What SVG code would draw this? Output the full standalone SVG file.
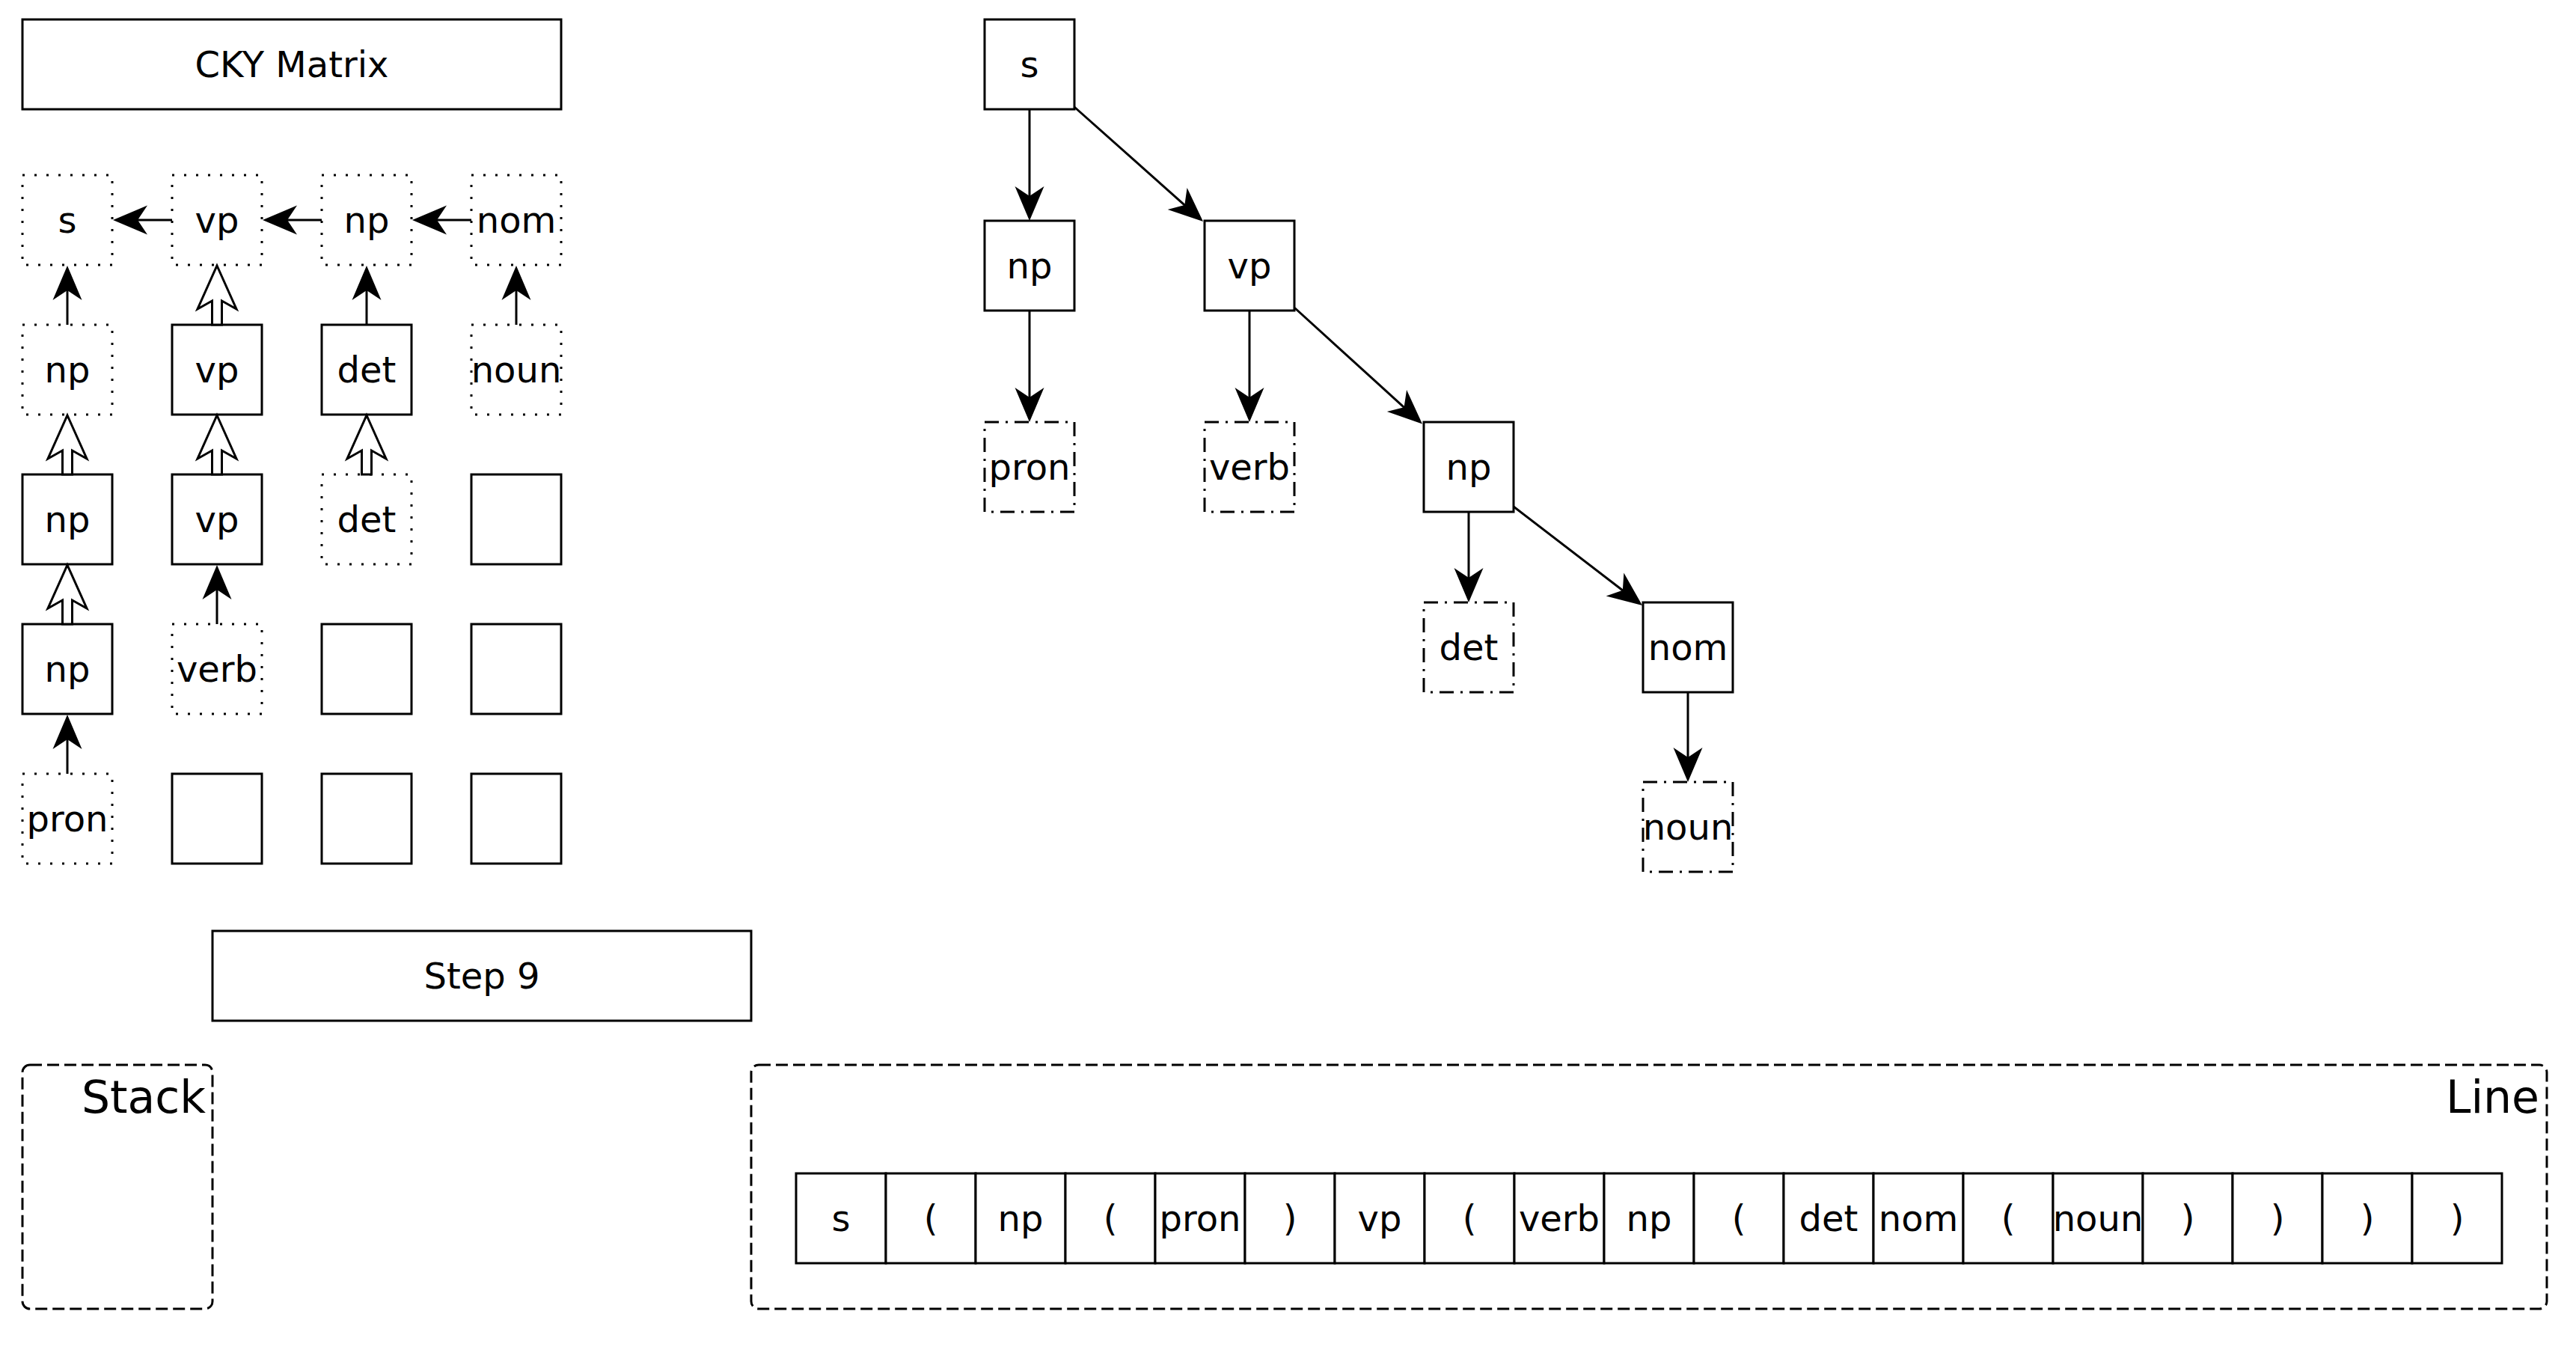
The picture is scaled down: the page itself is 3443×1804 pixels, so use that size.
<svg xmlns="http://www.w3.org/2000/svg" xmlns:xlink="http://www.w3.org/1999/xlink" width="3443" height="1804" viewBox="0 0 3443 1804">
  <style>
    .box { fill: #fff; stroke: #000; stroke-width: 3; }
    .dot { fill: #fff; stroke: #000; stroke-width: 3; stroke-dasharray: 3 13; }
    .dashdot { fill: #fff; stroke: #000; stroke-width: 3; stroke-dasharray: 19 9 3 9; }
    .group { fill: none; stroke: #000; stroke-width: 3; stroke-dasharray: 16 7; }
    .lbl { font-family: "DejaVu Sans", "Noto Sans", sans-serif; font-size: 48px; text-anchor: middle; fill: #000; }
    .title { font-family: "DejaVu Sans", "Noto Sans", sans-serif; font-size: 60px; text-anchor: end; fill: #000; }
    .edge { fill: none; stroke: #000; stroke-width: 3; marker-end: url(#arrow); }
    .hollow { fill: #fff; stroke: #000; stroke-width: 3; stroke-linejoin: miter; }
  </style>
  <defs>
    <!-- classic notched arrowhead, tip 30px past the line end -->
    <marker id="arrow" markerUnits="userSpaceOnUse" markerWidth="50" markerHeight="42" viewBox="0 0 50 42" refX="16" refY="21" orient="auto" overflow="visible">
      <path d="M0,1.5 L46,21 L0,40.5 L13,21 Z" fill="#000"/>
    </marker>
    <!-- outlined block arrow pointing up, tip at origin -->
    <path id="block-up" class="hollow" d="M0,0 L26,58 L6.5,47 L6.5,79 L-6.5,79 L-6.5,47 L-26,58 Z"/>
  </defs>

  <rect width="3443" height="1804" fill="#fff"/>

  <!-- Header boxes -->
  <g id="cky-title">
    <rect class="box" x="30" y="26" width="720" height="120"/>
    <text class="lbl" x="390" y="103">CKY Matrix</text>
  </g>
  <g id="step-title">
    <rect class="box" x="284" y="1244" width="720" height="120"/>
    <text class="lbl" x="644" y="1321">Step 9</text>
  </g>

  <!-- CKY matrix cells: column c at x=30+200c, row r at y=234+200r -->
  <g id="m-0-0"><rect class="dot" x="30" y="234" width="120" height="120"/><text class="lbl" x="90" y="311">s</text></g>
  <g id="m-0-1"><rect class="dot" x="230" y="234" width="120" height="120"/><text class="lbl" x="290" y="311">vp</text></g>
  <g id="m-0-2"><rect class="dot" x="430" y="234" width="120" height="120"/><text class="lbl" x="490" y="311">np</text></g>
  <g id="m-0-3"><rect class="dot" x="630" y="234" width="120" height="120"/><text class="lbl" x="690" y="311">nom</text></g>

  <g id="m-1-0"><rect class="dot" x="30" y="434" width="120" height="120"/><text class="lbl" x="90" y="511">np</text></g>
  <g id="m-1-1"><rect class="box" x="230" y="434" width="120" height="120"/><text class="lbl" x="290" y="511">vp</text></g>
  <g id="m-1-2"><rect class="box" x="430" y="434" width="120" height="120"/><text class="lbl" x="490" y="511">det</text></g>
  <g id="m-1-3"><rect class="dot" x="630" y="434" width="120" height="120"/><text class="lbl" x="690" y="511">noun</text></g>

  <g id="m-2-0"><rect class="box" x="30" y="634" width="120" height="120"/><text class="lbl" x="90" y="711">np</text></g>
  <g id="m-2-1"><rect class="box" x="230" y="634" width="120" height="120"/><text class="lbl" x="290" y="711">vp</text></g>
  <g id="m-2-2"><rect class="dot" x="430" y="634" width="120" height="120"/><text class="lbl" x="490" y="711">det</text></g>
  <g id="m-2-3"><rect class="box" x="630" y="634" width="120" height="120"/></g>

  <g id="m-3-0"><rect class="box" x="30" y="834" width="120" height="120"/><text class="lbl" x="90" y="911">np</text></g>
  <g id="m-3-1"><rect class="dot" x="230" y="834" width="120" height="120"/><text class="lbl" x="290" y="911">verb</text></g>
  <g id="m-3-2"><rect class="box" x="430" y="834" width="120" height="120"/></g>
  <g id="m-3-3"><rect class="box" x="630" y="834" width="120" height="120"/></g>

  <g id="m-4-0"><rect class="dot" x="30" y="1034" width="120" height="120"/><text class="lbl" x="90" y="1111">pron</text></g>
  <g id="m-4-1"><rect class="box" x="230" y="1034" width="120" height="120"/></g>
  <g id="m-4-2"><rect class="box" x="430" y="1034" width="120" height="120"/></g>
  <g id="m-4-3"><rect class="box" x="630" y="1034" width="120" height="120"/></g>

  <!-- Parse tree -->
  <g id="t-s"><rect class="box" x="1316" y="26" width="120" height="120"/><text class="lbl" x="1376" y="103">s</text></g>
  <g id="t-np"><rect class="box" x="1316" y="295" width="120" height="120"/><text class="lbl" x="1376" y="372">np</text></g>
  <g id="t-vp"><rect class="box" x="1610" y="295" width="120" height="120"/><text class="lbl" x="1670" y="372">vp</text></g>
  <g id="t-pron"><rect class="dashdot" x="1316" y="564" width="120" height="120"/><text class="lbl" x="1376" y="641">pron</text></g>
  <g id="t-verb"><rect class="dashdot" x="1610" y="564" width="120" height="120"/><text class="lbl" x="1670" y="641">verb</text></g>
  <g id="t-np2"><rect class="box" x="1903" y="564" width="120" height="120"/><text class="lbl" x="1963" y="641">np</text></g>
  <g id="t-det"><rect class="dashdot" x="1903" y="805" width="120" height="120"/><text class="lbl" x="1963" y="882">det</text></g>
  <g id="t-nom"><rect class="box" x="2196" y="805" width="120" height="120"/><text class="lbl" x="2256" y="882">nom</text></g>
  <g id="t-noun"><rect class="dashdot" x="2196" y="1045" width="120" height="120"/><text class="lbl" x="2256" y="1122">noun</text></g>

  <!-- Stack and Line containers -->
  <g id="stack">
    <rect class="group" x="30" y="1423" width="254" height="326" rx="10" ry="10"/>
    <text class="title" x="275" y="1487">Stack</text>
  </g>
  <g id="line">
    <rect class="group" x="1004" y="1423" width="2400" height="326" rx="10" ry="10"/>
    <text class="title" x="3394" y="1487">Line</text>
  </g>

  <!-- Token strip: 19 cells, 120 wide, starting at x=1064 -->
  <g id="tokens">
    <g id="tok-0"><rect class="box" x="1064" y="1568" width="120" height="120"/><text class="lbl" x="1124" y="1645">s</text></g>
    <g id="tok-1"><rect class="box" x="1184" y="1568" width="120" height="120"/><text class="lbl" x="1244" y="1645">(</text></g>
    <g id="tok-2"><rect class="box" x="1304" y="1568" width="120" height="120"/><text class="lbl" x="1364" y="1645">np</text></g>
    <g id="tok-3"><rect class="box" x="1424" y="1568" width="120" height="120"/><text class="lbl" x="1484" y="1645">(</text></g>
    <g id="tok-4"><rect class="box" x="1544" y="1568" width="120" height="120"/><text class="lbl" x="1604" y="1645">pron</text></g>
    <g id="tok-5"><rect class="box" x="1664" y="1568" width="120" height="120"/><text class="lbl" x="1724" y="1645">)</text></g>
    <g id="tok-6"><rect class="box" x="1784" y="1568" width="120" height="120"/><text class="lbl" x="1844" y="1645">vp</text></g>
    <g id="tok-7"><rect class="box" x="1904" y="1568" width="120" height="120"/><text class="lbl" x="1964" y="1645">(</text></g>
    <g id="tok-8"><rect class="box" x="2024" y="1568" width="120" height="120"/><text class="lbl" x="2084" y="1645">verb</text></g>
    <g id="tok-9"><rect class="box" x="2144" y="1568" width="120" height="120"/><text class="lbl" x="2204" y="1645">np</text></g>
    <g id="tok-10"><rect class="box" x="2264" y="1568" width="120" height="120"/><text class="lbl" x="2324" y="1645">(</text></g>
    <g id="tok-11"><rect class="box" x="2384" y="1568" width="120" height="120"/><text class="lbl" x="2444" y="1645">det</text></g>
    <g id="tok-12"><rect class="box" x="2504" y="1568" width="120" height="120"/><text class="lbl" x="2564" y="1645">nom</text></g>
    <g id="tok-13"><rect class="box" x="2624" y="1568" width="120" height="120"/><text class="lbl" x="2684" y="1645">(</text></g>
    <g id="tok-14"><rect class="box" x="2744" y="1568" width="120" height="120"/><text class="lbl" x="2804" y="1645">noun</text></g>
    <g id="tok-15"><rect class="box" x="2864" y="1568" width="120" height="120"/><text class="lbl" x="2924" y="1645">)</text></g>
    <g id="tok-16"><rect class="box" x="2984" y="1568" width="120" height="120"/><text class="lbl" x="3044" y="1645">)</text></g>
    <g id="tok-17"><rect class="box" x="3104" y="1568" width="120" height="120"/><text class="lbl" x="3164" y="1645">)</text></g>
    <g id="tok-18"><rect class="box" x="3224" y="1568" width="120" height="120"/><text class="lbl" x="3284" y="1645">)</text></g>
  </g>

  <!-- Connectors -->
  <g id="connectors">
    <!-- matrix row 0, right to left -->
    <path class="edge" d="M230,294 H181"/>
    <path class="edge" d="M430,294 H381"/>
    <path class="edge" d="M630,294 H581"/>
    <!-- matrix, upward single arrows -->
    <path class="edge" d="M90,434 V385"/>
    <path class="edge" d="M490,434 V385"/>
    <path class="edge" d="M690,434 V385"/>
    <path class="edge" d="M290,834 V785"/>
    <path class="edge" d="M90,1034 V985"/>
    <!-- matrix, upward block arrows -->
    <use xlink:href="#block-up" x="290" y="355"/>
    <use xlink:href="#block-up" x="90" y="555"/>
    <use xlink:href="#block-up" x="290" y="555"/>
    <use xlink:href="#block-up" x="490" y="555"/>
    <use xlink:href="#block-up" x="90" y="755"/>
    <!-- tree edges -->
    <path class="edge" d="M1376,146 V265"/>
    <path class="edge" d="M1436,143 L1585.6,276.1"/>
    <path class="edge" d="M1376,415 V534"/>
    <path class="edge" d="M1670,415 V534"/>
    <path class="edge" d="M1730.5,411.5 L1878.8,546.3"/>
    <path class="edge" d="M1963,684 V775"/>
    <path class="edge" d="M2023,677 L2171.2,790.7"/>
    <path class="edge" d="M2256,925 V1015"/>
  </g>
</svg>
